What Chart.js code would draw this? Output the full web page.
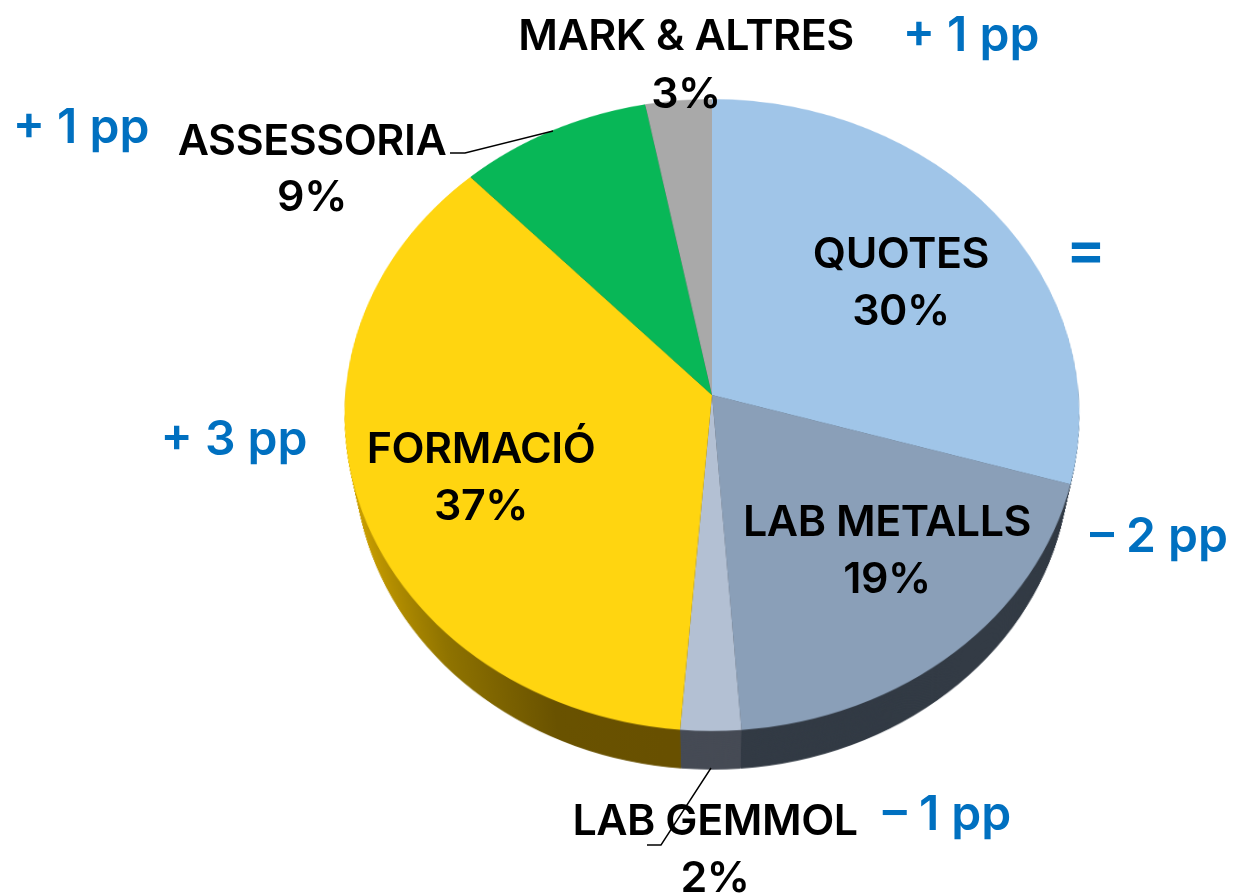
<!DOCTYPE html>
<html lang="ca">
<head>
<meta charset="utf-8">
<title>Ingressos per línia</title>
<script src="https://cdn.jsdelivr.net/npm/chart.js@4"></script>
<style>
    html, body { margin: 0; background: #fff; overflow: hidden; }
    #stage { position: relative; width: 1234px; height: 893px; overflow: hidden; }
    /* the tilt of the pie is a real perspective, so the apex sits above the ellipse centre */
    #pie {
        position: absolute; left: 282px; top: -35px;
        transform: perspective(2973px) rotateX(30.9deg);
    }
    #overlay { position: absolute; left: 0; top: 0; }
    #overlay text { font-family: Inter, sans-serif; font-weight: 600; }
    .name, .pct { font-size: 43px; letter-spacing: -0.45px; fill: #000; text-anchor: middle; }
    .delta { font-size: 48px; letter-spacing: 0; fill: #0070c0; text-anchor: middle; }
    .delta.same { font-size: 60px; font-weight: 700; }
</style>
</head>
<body>
<div id="stage">
    <canvas id="pie" width="860" height="860"></canvas>
    <svg id="overlay" width="1234" height="893" xmlns="http://www.w3.org/2000/svg"></svg>
</div>
<script>
// Slice sizes, printed labels are the rounded figures
const categories = ['QUOTES', 'LAB METALLS', 'LAB GEMMOL', 'FORMACIÓ', 'ASSESSORIA', 'MARK & ALTRES'];
const shares = [29.5, 19.3, 2.5, 36.6, 9, 3.1];
const percentLabels = ['30%', '19%', '2%', '37%', '9%', '3%'];
const changeLabels = ['=', '– 2 pp', '– 1 pp', '+ 3 pp', '+ 1 pp', '+ 1 pp'];
const topColors = ['#a0c5e8', '#8a9fb8', '#b3c0d3', '#ffd510', '#08b757', '#a9a9a9'];
const sideColors = ['#4f6274', '#333b45', '#464b55', null, '#045a2b', '#545454'];

// Text placement on the page: [x, name baseline, percent baseline, delta x, delta baseline]
const textSpots = [
    [901, 268, 325, 1086, 270],
    [887, 536, 593, 1159, 552],
    [715, 835, 892, 947, 830],
    [481, 463, 520, 234, 455],
    [312, 155, 211, 81, 143],
    [686, 50, 108, 971, 51]
];
const leaderLines = ['450,153 465,153 553,131', '647,845 661,845 711,768'];

// Wall of the pie: lower disc is slightly smaller and further down
const wallDrop = 52.5;
const wallScale = 0.964;
const wallSteps = 60;

const pieWall = {
    id: 'pieWall',
    beforeDatasetsDraw(chart) {
        const ctx = chart.ctx;
        const arcs = chart.getDatasetMeta(0).data;
        const cx = arcs[0].x, cy = arcs[0].y;
        const gold = ctx.createLinearGradient(cx - 350, 0, cx - 40, 0);
        gold.addColorStop(0, '#c99e00');
        gold.addColorStop(0.3, '#8f7300');
        gold.addColorStop(0.65, '#695200');
        gold.addColorStop(1, '#685000');

        for (let i = wallSteps; i >= 1; i--) {
            const t = i / wallSteps;
            const k = 1 - t * (1 - wallScale);
            ctx.save();
            ctx.translate(cx, cy + wallDrop * t);
            ctx.scale(k, k);
            ctx.translate(-cx, -cy);
            arcs.forEach((arc, n) => {
                const real = arc.options;
                arc.options = Object.create(real);
                arc.options.backgroundColor = sideColors[n] || gold;
                arc.draw(ctx);
                arc.options = real;
            });
            ctx.restore();
        }
    }
};

new Chart(document.getElementById('pie').getContext('2d'), {
    type: 'pie',
    data: {
        labels: categories,
        datasets: [{
            data: shares,
            backgroundColor: topColors,
            borderWidth: 0,
            radius: 366.7
        }]
    },
    options: {
        responsive: false,
        animation: false,
        events: [],
        plugins: {
            legend: { display: false },
            tooltip: { enabled: false }
        }
    },
    plugins: [pieWall]
});

// Labels go in the overlay so that they stay flat over the tilted pie
const svg = document.getElementById('overlay');
const SVG_NS = 'http://www.w3.org/2000/svg';

function addText(cls, x, y, str) {
    const el = document.createElementNS(SVG_NS, 'text');
    el.setAttribute('class', cls);
    el.setAttribute('x', x);
    el.setAttribute('y', y);
    el.textContent = str;
    svg.appendChild(el);
}

categories.forEach((name, i) => {
    const [x, nameY, pctY, deltaX, deltaY] = textSpots[i];
    addText('name', x, nameY, name);
    addText('pct', x, pctY, percentLabels[i]);
    addText(changeLabels[i] === '=' ? 'delta same' : 'delta', deltaX, deltaY, changeLabels[i]);
});

leaderLines.forEach(points => {
    const line = document.createElementNS(SVG_NS, 'polyline');
    line.setAttribute('points', points);
    line.setAttribute('fill', 'none');
    line.setAttribute('stroke', '#000');
    line.setAttribute('stroke-width', '1.4');
    svg.appendChild(line);
});
</script>
</body>
</html>
